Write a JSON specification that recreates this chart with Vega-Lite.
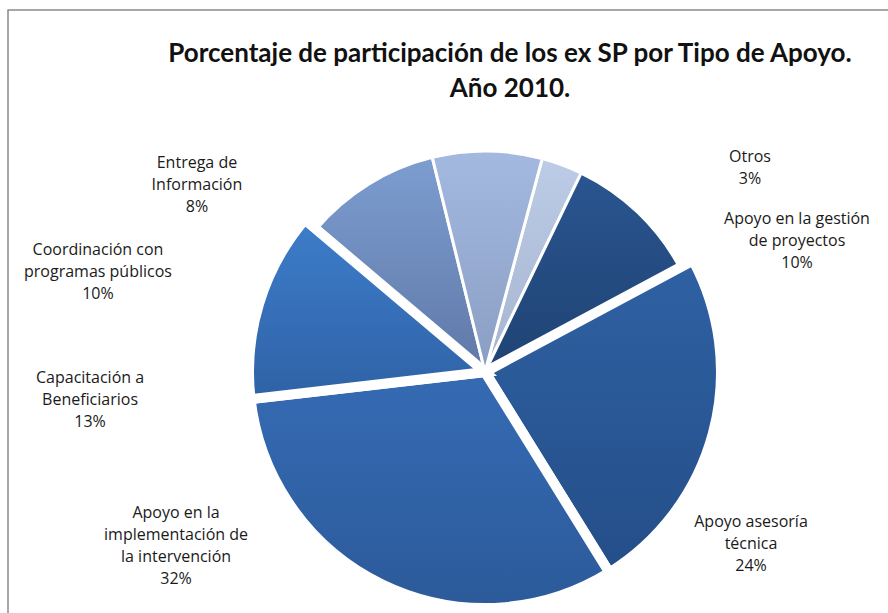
{
  "$schema": "https://vega.github.io/schema/vega-lite/v6.json",
  "width": 880,
  "height": 603,
  "autosize": {"type": "none"},
  "padding": {"left": 8, "top": 10, "right": 0, "bottom": 0},
  "background": "white",
  "config": {"view": {"stroke": null}, "font": "Open Sans"},
  "title": {
    "text": ["Porcentaje de participación de los ex SP por Tipo de Apoyo.", "Año 2010."],
    "font": "Lato", "fontSize": 26, "fontWeight": "bold", "color": "#111111",
    "anchor": "middle", "offset": -93, "dx": 62, "lineHeight": 35
  },
  "datasets": {"apoyo": [
    {"tipo": "Otros", "valor": 3, "orden": 1, "etiqueta": "Otros\n3%"},
    {"tipo": "Apoyo en la gestión de proyectos", "valor": 10, "orden": 2, "etiqueta": "Apoyo en la gestión\nde proyectos\n10%"},
    {"tipo": "Apoyo asesoría técnica", "valor": 24, "orden": 3, "etiqueta": "Apoyo asesoría\ntécnica\n24%"},
    {"tipo": "Apoyo en la implementación de la intervención", "valor": 32, "orden": 4, "etiqueta": "Apoyo en la\nimplementación de\nla intervención\n32%"},
    {"tipo": "Capacitación a Beneficiarios", "valor": 13, "orden": 5, "etiqueta": "Capacitación  a\nBeneficiarios\n13%"},
    {"tipo": "Coordinación con programas públicos", "valor": 10, "orden": 6, "etiqueta": "Coordinación con\nprogramas públicos\n10%"},
    {"tipo": "Entrega de Información", "valor": 8, "orden": 7, "etiqueta": "Entrega de\nInformación\n8%"}
  ]},
  "data": {"name": "apoyo"},
  "layer": [
    {
      "data": {"values": [{"marco": 1}]},
      "mark": {"type": "rect", "fill": null, "stroke": "#8a8a8a", "strokeWidth": 1.5, "strokeDash": [880, 1483, 603]},
      "encoding": {}
    },
    {
      "transform": [{"stack": "valor", "groupby": [], "sort": [{"field": "orden", "order": "ascending"}], "as": ["v0", "v1"]}],
      "mark": {"type": "arc", "outerRadius": 221, "xOffset": 37, "yOffset": 60.5, "stroke": "white", "strokeWidth": 3},
      "encoding": {
        "theta": {"field": "v0", "type": "quantitative", "scale": {"domain": [0, 100], "range": [0.2618, 6.545]}},
        "theta2": {"field": "v1"},
        "fill": {"condition": [
          {"test": "datum.orden == 1", "value": {"gradient": "linear", "x1": 0, "y1": 0, "x2": 0, "y2": 1, "stops": [{"offset": 0, "color": "#bccbe6"}, {"offset": 1, "color": "#a6b4cf"}]}},
          {"test": "datum.orden == 2", "value": {"gradient": "linear", "x1": 0, "y1": 0, "x2": 0, "y2": 1, "stops": [{"offset": 0, "color": "#2a5590"}, {"offset": 1, "color": "#1f4373"}]}},
          {"test": "datum.orden == 6", "value": {"gradient": "linear", "x1": 0, "y1": 0, "x2": 0, "y2": 1, "stops": [{"offset": 0, "color": "#7d9dd0"}, {"offset": 1, "color": "#5f79a8"}]}},
          {"test": "datum.orden == 7", "value": {"gradient": "linear", "x1": 0, "y1": 0, "x2": 0, "y2": 1, "stops": [{"offset": 0, "color": "#a4b9df"}, {"offset": 1, "color": "#8a9ec4"}]}}
        ], "value": "#3166ad"},
        "opacity": {"condition": {"test": "datum.orden >= 3 && datum.orden <= 5", "value": 0}, "value": 1}
      }
    },
    {
      "transform": [{"stack": "valor", "groupby": [], "sort": [{"field": "orden", "order": "ascending"}], "as": ["v0", "v1"]}],
      "mark": {"type": "arc", "outerRadius": 236, "xOffset": 37, "yOffset": 60.5, "stroke": "white", "strokeWidth": 10},
      "encoding": {
        "theta": {"field": "v0", "type": "quantitative", "scale": {"domain": [0, 100], "range": [0.2618, 6.545]}},
        "theta2": {"field": "v1"},
        "fill": {"condition": [
          {"test": "datum.orden == 3", "value": {"gradient": "linear", "x1": 0, "y1": 0, "x2": 0, "y2": 1, "stops": [{"offset": 0, "color": "#2f61a3"}, {"offset": 1, "color": "#244e88"}]}},
          {"test": "datum.orden == 4", "value": {"gradient": "linear", "x1": 0, "y1": 0, "x2": 0, "y2": 1, "stops": [{"offset": 0, "color": "#356bb4"}, {"offset": 1, "color": "#2c5a9a"}]}},
          {"test": "datum.orden == 5", "value": {"gradient": "linear", "x1": 0, "y1": 0, "x2": 0, "y2": 1, "stops": [{"offset": 0, "color": "#3d7dcb"}, {"offset": 1, "color": "#2f62a6"}]}}
        ], "value": "#3166ad"},
        "opacity": {"condition": {"test": "datum.orden >= 3 && datum.orden <= 5", "value": 1}, "value": 0}
      }
    },
    {
      "transform": [{"stack": "valor", "groupby": [], "sort": [{"field": "orden", "order": "ascending"}], "as": ["v0", "v1"]}, {"filter": "datum.orden == 1"}],
      "mark": {"type": "text", "radius": 341.2, "thetaOffset": 0.6274, "xOffset": 37, "yOffset": 60.5, "align": "center", "baseline": "middle", "lineBreak": "\n", "fontSize": 16, "lineHeight": 22, "font": "Open Sans", "color": "#1a1a1a"},
      "encoding": {"theta": {"field": "v0", "type": "quantitative"}, "text": {"field": "etiqueta"}}
    },
    {
      "transform": [{"stack": "valor", "groupby": [], "sort": [{"field": "orden", "order": "ascending"}], "as": ["v0", "v1"]}, {"filter": "datum.orden == 2"}],
      "mark": {"type": "text", "radius": 347.5, "thetaOffset": 0.6646, "xOffset": 37, "yOffset": 60.5, "align": "center", "baseline": "middle", "lineBreak": "\n", "fontSize": 16, "lineHeight": 22, "font": "Open Sans", "color": "#1a1a1a"},
      "encoding": {"theta": {"field": "v0", "type": "quantitative"}, "text": {"field": "etiqueta"}}
    },
    {
      "transform": [{"stack": "valor", "groupby": [], "sort": [{"field": "orden", "order": "ascending"}], "as": ["v0", "v1"]}, {"filter": "datum.orden == 3"}],
      "mark": {"type": "text", "radius": 305.4, "thetaOffset": 1.0057, "xOffset": 37, "yOffset": 60.5, "align": "center", "baseline": "middle", "lineBreak": "\n", "fontSize": 16, "lineHeight": 22, "font": "Open Sans", "color": "#1a1a1a"},
      "encoding": {"theta": {"field": "v0", "type": "quantitative"}, "text": {"field": "etiqueta"}}
    },
    {
      "transform": [{"stack": "valor", "groupby": [], "sort": [{"field": "orden", "order": "ascending"}], "as": ["v0", "v1"]}, {"filter": "datum.orden == 4"}],
      "mark": {"type": "text", "radius": 339.6, "thetaOffset": 1.6977, "xOffset": 37, "yOffset": 60.5, "align": "center", "baseline": "middle", "lineBreak": "\n", "fontSize": 16, "lineHeight": 22, "font": "Open Sans", "color": "#1a1a1a"},
      "encoding": {"theta": {"field": "v0", "type": "quantitative"}, "text": {"field": "etiqueta"}}
    },
    {
      "transform": [{"stack": "valor", "groupby": [], "sort": [{"field": "orden", "order": "ascending"}], "as": ["v0", "v1"]}, {"filter": "datum.orden == 5"}],
      "mark": {"type": "text", "radius": 395.0, "thetaOffset": 0.1, "xOffset": 37, "yOffset": 60.5, "align": "center", "baseline": "middle", "lineBreak": "\n", "fontSize": 16, "lineHeight": 22, "font": "Open Sans", "color": "#1a1a1a"},
      "encoding": {"theta": {"field": "v0", "type": "quantitative"}, "text": {"field": "etiqueta"}}
    },
    {
      "transform": [{"stack": "valor", "groupby": [], "sort": [{"field": "orden", "order": "ascending"}], "as": ["v0", "v1"]}, {"filter": "datum.orden == 6"}],
      "mark": {"type": "text", "radius": 405.8, "thetaOffset": -0.3962, "xOffset": 37, "yOffset": 60.5, "align": "center", "baseline": "middle", "lineBreak": "\n", "fontSize": 16, "lineHeight": 22, "font": "Open Sans", "color": "#1a1a1a"},
      "encoding": {"theta": {"field": "v0", "type": "quantitative"}, "text": {"field": "etiqueta"}}
    },
    {
      "transform": [{"stack": "valor", "groupby": [], "sort": [{"field": "orden", "order": "ascending"}], "as": ["v0", "v1"]}, {"filter": "datum.orden == 7"}],
      "mark": {"type": "text", "radius": 355.9, "thetaOffset": -0.7022, "xOffset": 37, "yOffset": 60.5, "align": "center", "baseline": "middle", "lineBreak": "\n", "fontSize": 16, "lineHeight": 22, "font": "Open Sans", "color": "#1a1a1a"},
      "encoding": {"theta": {"field": "v0", "type": "quantitative"}, "text": {"field": "etiqueta"}}
    }
  ]
}
